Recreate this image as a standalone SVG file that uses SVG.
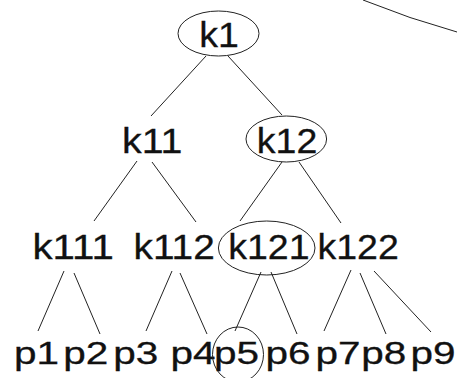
<svg xmlns="http://www.w3.org/2000/svg" width="457" height="378" viewBox="0 0 457 378">
<style>
.bg{fill:#fff}
.k{font-family:"Liberation Sans",Arial,Helvetica,sans-serif;font-size:35px;fill:#111;stroke:#111;stroke-width:0.3}
.p{font-family:"Liberation Sans",Arial,Helvetica,sans-serif;font-size:32px;fill:#111;stroke:#111;stroke-width:0.3}
.ring{fill:none;stroke:#222;stroke-width:1}
.edge{fill:none;stroke:#222;stroke-width:1}
</style>
<rect class="bg" x="0" y="0" width="457" height="378"/>
<g id="arc"><path class="edge" d="M363,0 Q410,19 457,32"/></g>
<g id="connectors">
<line class="edge" x1="206" y1="56" x2="151" y2="116"/>
<line class="edge" x1="228" y1="56" x2="282" y2="115"/>
<line class="edge" x1="137" y1="161" x2="94" y2="221"/>
<line class="edge" x1="152" y1="162" x2="196" y2="222"/>
<line class="edge" x1="282" y1="162" x2="240" y2="221"/>
<line class="edge" x1="299" y1="162" x2="341" y2="223"/>
<line class="edge" x1="64" y1="271" x2="38" y2="331"/>
<line class="edge" x1="74" y1="273" x2="100" y2="334"/>
<line class="edge" x1="172" y1="271" x2="146" y2="331"/>
<line class="edge" x1="180" y1="273" x2="207" y2="334"/>
<line class="edge" x1="261" y1="272" x2="235" y2="331"/>
<line class="edge" x1="271" y1="272" x2="297" y2="334"/>
<line class="edge" x1="351" y1="270" x2="324" y2="331"/>
<line class="edge" x1="360" y1="273" x2="386" y2="334"/>
<line class="edge" x1="374" y1="271" x2="431" y2="332"/>
</g>
<g id="k1"><ellipse class="ring" cx="218.5" cy="33.5" rx="40.5" ry="22.5"/><text class="k" x="199.2" y="46.5" textLength="39.6" lengthAdjust="spacingAndGlyphs">k1</text></g>
<g id="k11"><text class="k" x="122" y="153" textLength="60.5" lengthAdjust="spacingAndGlyphs">k11</text></g>
<g id="k12"><ellipse class="ring" cx="286.3" cy="139" rx="40.3" ry="23"/><text class="k" x="256.8" y="153" textLength="60.5" lengthAdjust="spacingAndGlyphs">k12</text></g>
<g id="k111"><text class="k" x="32.5" y="259" textLength="81.3" lengthAdjust="spacingAndGlyphs">k111</text></g>
<g id="k112"><text class="k" x="133.5" y="259" textLength="81.3" lengthAdjust="spacingAndGlyphs">k112</text></g>
<g id="k121"><ellipse class="ring" cx="266.7" cy="248" rx="48.3" ry="27"/><text class="k" x="228.2" y="259" textLength="81.3" lengthAdjust="spacingAndGlyphs">k121</text></g>
<g id="k122"><text class="k" x="317.5" y="259" textLength="81.3" lengthAdjust="spacingAndGlyphs">k122</text></g>
<g id="p1"><text class="p" x="14" y="364" textLength="45" lengthAdjust="spacingAndGlyphs">p1</text></g>
<g id="p2"><text class="p" x="63.3" y="364" textLength="45" lengthAdjust="spacingAndGlyphs">p2</text></g>
<g id="p3"><text class="p" x="113.3" y="364" textLength="45" lengthAdjust="spacingAndGlyphs">p3</text></g>
<g id="p4"><text class="p" x="170.6" y="364" textLength="45" lengthAdjust="spacingAndGlyphs">p4</text></g>
<g id="p5"><ellipse class="ring" cx="238" cy="354.5" rx="25.5" ry="27.5"/><text class="p" x="214" y="364" textLength="45" lengthAdjust="spacingAndGlyphs">p5</text></g>
<g id="p6"><text class="p" x="265.6" y="364" textLength="45" lengthAdjust="spacingAndGlyphs">p6</text></g>
<g id="p7"><text class="p" x="315.6" y="364" textLength="45" lengthAdjust="spacingAndGlyphs">p7</text></g>
<g id="p8"><text class="p" x="361.3" y="364" textLength="45" lengthAdjust="spacingAndGlyphs">p8</text></g>
<g id="p9"><text class="p" x="410.6" y="364" textLength="45" lengthAdjust="spacingAndGlyphs">p9</text></g>
</svg>
